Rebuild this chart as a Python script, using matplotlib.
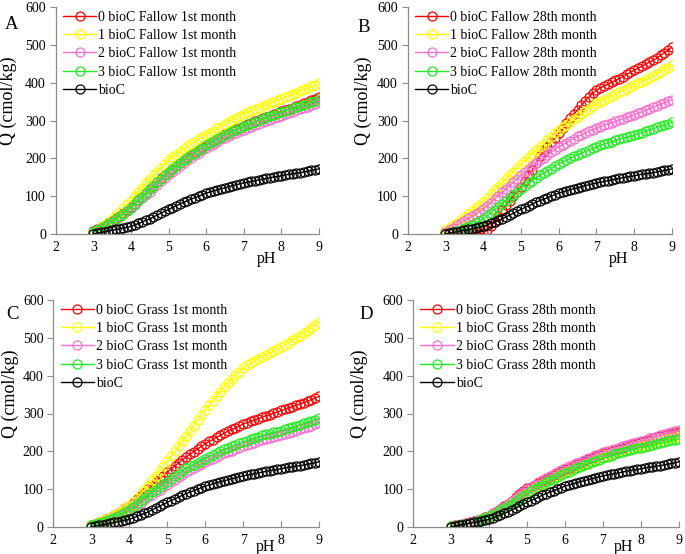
import numpy as np
import matplotlib
matplotlib.use("Agg")
import matplotlib.pyplot as plt
from matplotlib.transforms import blended_transform_factory

plt.rcParams['font.family'] = ['Liberation Serif', 'DejaVu Serif']

pH = [round(3.0 + 0.1 * i, 1) for i in range(61)]

bioC = [0, 2, 4, 6, 8, 10, 12, 14, 16, 18, 20,
        24, 28, 32, 36, 40, 45, 50, 55, 60, 65,
        70, 74, 79, 84, 88, 92, 96, 100, 104, 108,
        111, 114, 117, 120, 122, 125, 128, 130, 133, 135,
        137, 139, 141, 143, 145, 147, 149, 151, 152, 154,
        156, 158, 159, 161, 162, 164, 166, 168, 170, 172]

# Panel A: Fallow 1st month
A0 = [8, 13, 18, 23, 28, 34, 41, 48, 56, 63, 71, 80, 90, 99, 109, 118, 128, 137, 147, 156, 165,
      173, 181, 188, 196, 203, 209, 216, 222, 229, 235, 241, 246, 252, 257, 263, 268, 272, 277, 281, 286,
      290, 294, 298, 302, 306, 310, 313, 317, 320, 324, 327, 331, 334, 338, 341, 345, 349, 353, 358, 362]
A1 = [5, 11, 18, 25, 32, 40, 49, 58, 68, 78, 88, 100, 111, 122, 134, 145, 155, 165, 175, 185, 195,
      203, 210, 218, 225, 232, 238, 244, 250, 256, 262, 268, 273, 279, 284, 290, 296, 301, 307, 312, 318,
      322, 326, 330, 334, 338, 342, 346, 350, 354, 358, 362, 366, 370, 374, 378, 382, 386, 390, 394, 398]
A2 = [4, 9, 14, 19, 25, 30, 37, 45, 52, 60, 68, 77, 86, 94, 103, 112, 121, 130, 140, 149, 158,
      165, 173, 180, 188, 195, 202, 208, 215, 221, 228, 233, 239, 244, 250, 255, 259, 263, 267, 271, 275,
      279, 283, 287, 291, 295, 299, 302, 306, 309, 313, 316, 320, 323, 327, 330, 334, 337, 341, 344, 348]
A3 = [5, 10, 15, 21, 26, 32, 39, 47, 54, 62, 70, 80, 89, 99, 108, 118, 127, 137, 146, 156, 165,
      173, 180, 188, 195, 202, 209, 215, 222, 228, 235, 240, 246, 251, 257, 262, 267, 271, 276, 280, 285,
      289, 293, 297, 301, 305, 308, 312, 315, 319, 322, 325, 328, 332, 335, 338, 342, 345, 349, 352, 356]

# Panel B: Fallow 28th month
B0 = [3, 2, 2, 1, 1, 0, 0, 0, 0, 0, 2, 10, 20, 32, 48, 64, 76, 88, 100, 112, 125,
      140, 155, 170, 188, 205, 218, 230, 242, 254, 266, 280, 293, 306, 318, 327, 340, 352, 362, 372, 380,
      386, 391, 396, 401, 406, 411, 416, 422, 427, 433, 438, 443, 449, 454, 459, 465, 472, 479, 486, 494]
B1 = [10, 16, 23, 30, 38, 45, 53, 61, 69, 77, 85, 95, 105, 115, 125, 135, 145, 155, 165, 175, 185,
      194, 203, 212, 221, 230, 239, 248, 257, 266, 275, 282, 289, 296, 303, 310, 317, 324, 331, 338, 345,
      350, 355, 360, 365, 370, 375, 379, 384, 388, 393, 398, 403, 408, 413, 418, 423, 429, 435, 440, 446]
B2 = [5, 11, 17, 23, 29, 35, 41, 47, 53, 59, 65, 74, 83, 92, 101, 110, 119, 128, 137, 146, 155,
      163, 171, 179, 187, 195, 202, 209, 216, 223, 230, 236, 241, 247, 252, 258, 262, 267, 271, 276, 280,
      284, 287, 291, 294, 298, 301, 305, 308, 312, 315, 319, 323, 327, 331, 335, 339, 343, 347, 351, 355]
B3 = [0, 2, 5, 8, 11, 15, 19, 24, 29, 35, 40, 48, 56, 64, 72, 80, 88, 96, 104, 112, 120,
      127, 134, 141, 148, 155, 161, 167, 173, 179, 185, 190, 195, 200, 205, 210, 214, 218, 222, 226, 230,
      234, 237, 241, 244, 248, 251, 254, 256, 259, 262, 265, 268, 272, 275, 278, 282, 285, 289, 292, 296]

# Panel C: Grass 1st month
C0 = [5, 9, 13, 17, 21, 25, 31, 37, 43, 49, 55, 64, 73, 82, 91, 100, 109, 118, 127, 136, 145,
      153, 161, 169, 177, 185, 192, 199, 206, 213, 220, 226, 231, 237, 242, 248, 253, 258, 262, 267, 272,
      276, 279, 283, 286, 290, 294, 297, 301, 304, 308, 311, 315, 318, 322, 325, 329, 333, 337, 341, 345]
C1 = [5, 9, 13, 17, 21, 25, 31, 37, 43, 49, 55, 65, 76, 87, 98, 110, 123, 136, 149, 162, 175,
      188, 201, 214, 227, 240, 254, 268, 282, 296, 310, 322, 334, 346, 358, 370, 381, 392, 402, 411, 420,
      427, 433, 439, 445, 450, 455, 460, 465, 470, 475, 481, 487, 493, 499, 505, 512, 519, 527, 535, 543]
C2 = [3, 6, 9, 12, 15, 18, 23, 28, 32, 37, 42, 49, 56, 64, 71, 78, 85, 92, 98, 105, 112,
      119, 125, 132, 138, 145, 150, 156, 161, 167, 172, 177, 181, 186, 190, 195, 199, 202, 206, 209, 213,
      216, 220, 223, 227, 230, 233, 235, 238, 240, 243, 246, 249, 252, 255, 258, 261, 265, 268, 272, 275]
C3 = [5, 8, 11, 14, 17, 20, 25, 30, 35, 40, 45, 53, 61, 69, 77, 85, 92, 99, 106, 113, 120,
      127, 134, 141, 148, 155, 160, 165, 170, 175, 180, 185, 190, 195, 200, 205, 209, 213, 217, 221, 225,
      228, 232, 235, 239, 242, 245, 247, 250, 252, 255, 258, 261, 264, 267, 270, 274, 277, 281, 284, 288]

# Panel D: Grass 28th month
D0 = [2, 4, 6, 8, 10, 12, 15, 18, 22, 26, 30, 36, 42, 48, 55, 62, 70, 78, 86, 94, 102,
      107, 112, 117, 122, 127, 132, 137, 142, 147, 152, 157, 161, 166, 170, 175, 179, 183, 187, 191, 195,
      198, 201, 204, 207, 210, 213, 216, 219, 222, 225, 228, 231, 234, 237, 240, 243, 245, 247, 250, 252]
D1 = [2, 3, 5, 7, 9, 11, 14, 17, 20, 24, 28, 33, 38, 44, 50, 56, 63, 70, 77, 84, 90,
      96, 102, 108, 114, 120, 125, 130, 135, 140, 145, 149, 154, 158, 162, 166, 170, 174, 177, 181, 185,
      188, 191, 194, 197, 200, 203, 206, 209, 212, 215, 218, 221, 224, 227, 230, 232, 234, 236, 238, 240]
D2 = [2, 4, 6, 8, 10, 12, 15, 19, 22, 26, 30, 36, 42, 48, 54, 60, 68, 76, 84, 92, 100,
      106, 112, 118, 124, 130, 135, 140, 145, 150, 155, 160, 164, 169, 173, 178, 182, 186, 190, 194, 198,
      201, 204, 207, 210, 213, 216, 219, 222, 225, 228, 231, 234, 236, 239, 242, 245, 248, 250, 253, 256]
D3 = [2, 3, 5, 6, 8, 10, 13, 17, 20, 24, 28, 33, 38, 44, 49, 55, 62, 68, 75, 81, 88,
      94, 100, 106, 112, 118, 123, 128, 132, 137, 142, 146, 150, 155, 159, 163, 167, 171, 174, 178, 182,
      185, 188, 192, 195, 198, 200, 203, 205, 208, 210, 212, 215, 217, 220, 222, 224, 226, 229, 231, 233]

colors = ['#FF0000', '#FFFF00', '#FF6FCF', '#22EE22', '#000000']
xticks = [2, 3, 4, 5, 6, 7, 8, 9]
yticks = [0, 100, 200, 300, 400, 500, 600]

# letter, name, series, (left px, bottom px, right px), pH x (data), pH offset px,
# letter pos (axes frac), ylabel x (axes frac)
panels = [
    ('A', 'Fallow 1st month', [A0, A1, A2, A3], [55.7, 234, 319], 7.6, 25, (-0.166, 0.925), -0.147),
    ('B', 'Fallow 28th month', [B0, B1, B2, B3], [407.7, 234, 672], 7.58, 25, (-0.165, 0.91), -0.135),
    ('C', 'Grass 1st month', [C0, C1, C2, C3], [53.3, 527, 319], 7.6, 20, (-0.155, 0.938), -0.128),
    ('D', 'Grass 28th month', [D0, D1, D2, D3], [413, 527, 679], 7.53, 20, (-0.177, 0.938), -0.168),
]

W, H = 685, 554
fig = plt.figure(figsize=(W / 100, H / 100), dpi=100)
grey = '#8C8C8C'

for letter, name, series, (lpx, bpx, rpx), phx, phoff, lpos, ylx in panels:
    ax = fig.add_axes([lpx / W, (H - bpx) / H, (rpx - lpx) / W, 227 / H])
    labels = ['%d bioC %s' % (i, name) for i in range(4)] + ['bioC']
    for vals, c, lab in zip(series + [bioC], colors, labels):
        ax.plot(pH, vals, color=c, lw=1.0, marker='o', ms=6.5, mfc='none',
                mec=c, mew=0.9, label=lab)
    ax.set_xlim(2, 9)
    ax.set_ylim(0, 600)
    ax.set_xticks(xticks)
    ax.set_yticks(yticks)
    for s in ['top', 'right']:
        ax.spines[s].set_visible(False)
    for s in ['left', 'bottom']:
        ax.spines[s].set_color(grey)
        ax.spines[s].set_linewidth(0.9)
    ax.tick_params(axis='x', direction='in', length=4, color=grey, labelsize=10, pad=5)
    ax.tick_params(axis='y', direction='out', length=4, color=grey, labelsize=10, pad=3)
    ax.set_ylabel('Q (cmol/kg)', fontsize=13)
    ax.yaxis.set_label_coords(ylx, 0.585)
    tr = blended_transform_factory(ax.transData, ax.transAxes)
    ax.text(phx, -phoff / 227, 'pH', transform=tr, ha='center', va='center', fontsize=11.5)
    ax.text(lpos[0], lpos[1], letter, transform=ax.transAxes, ha='center', va='center', fontsize=13.5)
    ax.legend(loc='upper left', frameon=False, fontsize=10, handlelength=2.4,
              handletextpad=0.15, labelspacing=0.38, borderaxespad=0.2,
              bbox_to_anchor=(-0.004, 1.02), numpoints=1)

fig.savefig('out.png', dpi=100)
